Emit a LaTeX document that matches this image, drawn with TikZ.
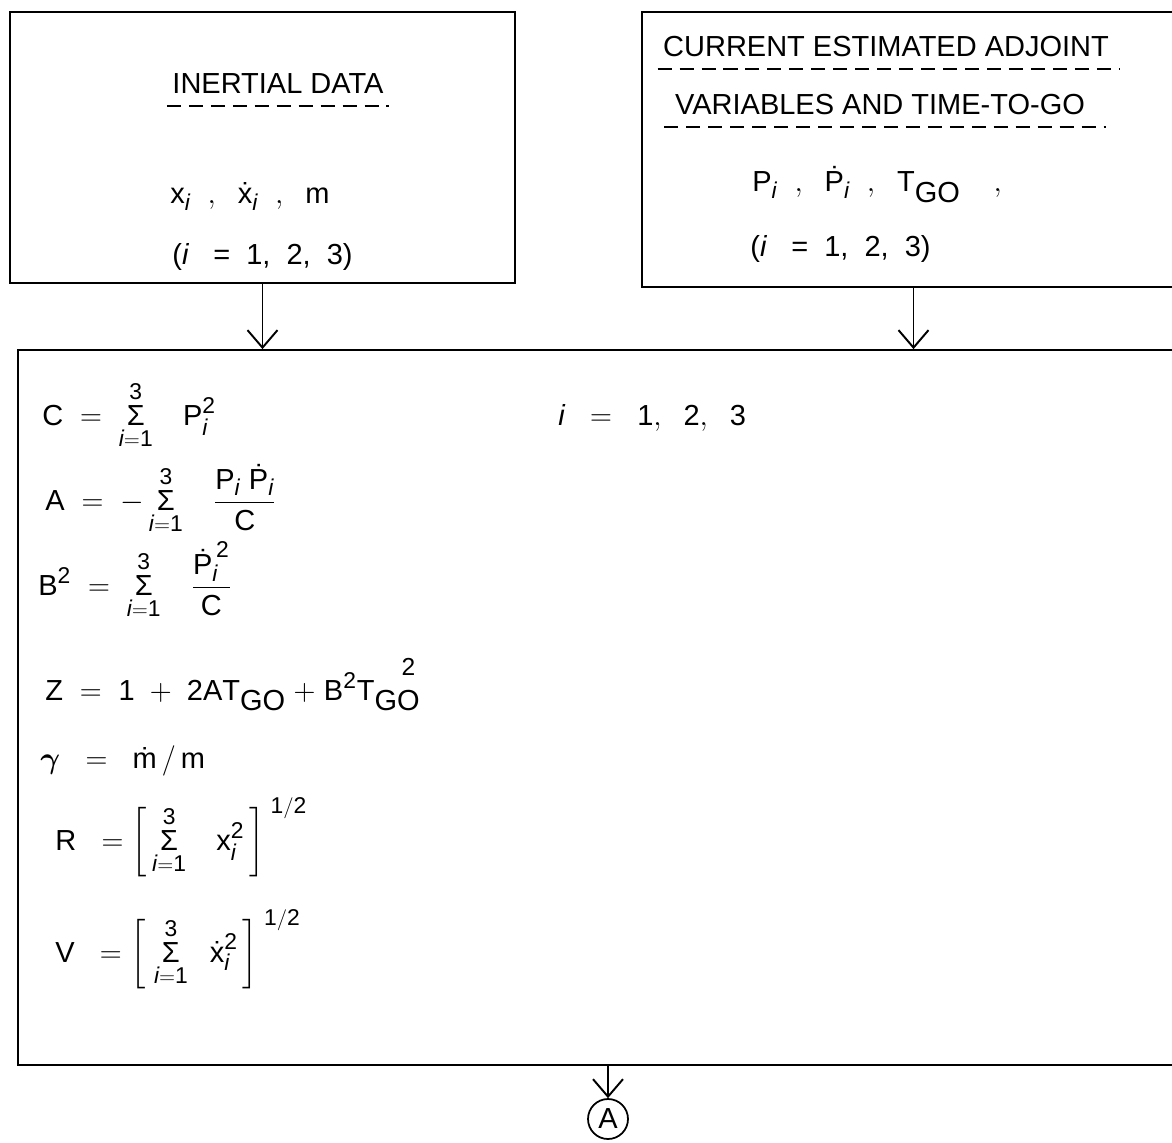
\documentclass[tikz,border=0pt]{standalone}
\usepackage{amsmath}
\usepackage{amssymb}
\usepackage{fontspec}
\setmainfont{Liberation Sans}
\usepackage{tikz}
\usetikzlibrary{arrows.meta,positioning}

\DeclareMathSizes{16.5}{16.5}{13}{10}
\newcommand{\ix}{\mathit{i}}
\newcommand{\sumi}{\mathop{\text{Σ}}\limits_{\ix\mathrm{=1}}^{\mathrm{3}}}
\newcommand{\GO}{\hbox{\raisebox{-0.7ex}{GO}}}
\newcommand{\GOsq}{\hbox{\raisebox{-0.7ex}{GO}\llap{\raisebox{1.6ex}{\fontsize{14}{16}\selectfont 2}\hspace{0.15em}}}}
\newcommand{\ione}{(\textit{i}\ \ \ =\ \ 1,\ \ 2,\ \ 3)}

\tikzset{
  blk/.style={draw, line width=1.1pt, inner sep=0pt},
  flow/.style={line width=1.1pt, -{Straight Barb[length=3.5mm,width=6mm,line width=1.1pt]}},
  txt/.style={anchor=base west, inner sep=0pt, font=\fontsize{16.5}{20}\selectfont},
  ttl/.style={anchor=base, inner sep=0pt, font=\fontsize{16.5}{20}\selectfont},
  uline/.style={line width=1.1pt, dash pattern=on 8pt off 4.5pt},
}

\begin{document}
\begin{tikzpicture}[x=0.02cm,y=-0.02cm]
  \clip (0,0) rectangle (1172,1142);
  % boxes
  \node[blk, minimum width=10.1cm, minimum height=5.42cm] (inert) at (262.5,147.5) {};
  \node[blk, minimum width=10.86cm, minimum height=5.5cm] (adj) at (913.5,149.5) {};
  \node[blk, minimum width=23.34cm, minimum height=14.3cm] (calc) at (601.5,707.5) {};
  \node[draw, circle, line width=1pt, minimum size=0.8cm, inner sep=0pt,
        font=\fontsize{16.5}{20}\selectfont] (conA) at (608,1119) {A};

  % inertial data
  \node[ttl] (t1) at (278,94) {INERTIAL DATA};
  \draw[uline] ([xshift=-3pt,yshift=-7pt]t1.base west) -- ([xshift=3pt,yshift=-7pt]t1.base east);
  \node[txt] (xin) at (170,204) {$\mathrm{x_{\ix}\;\;,\;\;\text{ẋ}_{\ix}\;\;,\;\;m}$};
  \node[txt] (iin) at (172,264) {\ione};

  % adjoint variables
  \node[ttl] (t2) at (886,57) {CURRENT ESTIMATED ADJOINT};
  \node[ttl] (t3) at (880,115) {VARIABLES AND TIME-TO-GO};
  \draw[uline] ([xshift=-3pt,yshift=-7pt]t2.base west) -- ([xshift=6pt,yshift=-7pt]t2.base east);
  \draw[uline] ([xshift=-6pt,yshift=-7pt]t3.base west) -- ([xshift=12pt,yshift=-7pt]t3.base east);
  \node[txt] (pin) at (752,192) {$\mathrm{P_{\ix}\;\;,\;\;\text{Ṗ}_{\ix}\;\;,\;\;T}\GO\;\;\;\;,$};
  \node[txt] (iad) at (750,256) {\ione};

  % computations
  \node[txt] (eqC) at (42,425) {$\mathrm{C}\;=\;\sumi\;\;\;\mathrm{P_{\ix}^{2}}$};
  \node[txt] (eqI) at (558,425) {$\ix\;\;=\;\;\mathrm{1,\;\;2,\;\;3}$};
  \node[txt] (eqA) at (45,510) {$\mathrm{A}\;=\;-\sumi\;\;\;\dfrac{\mathrm{P}_{\ix}\;\text{Ṗ}_{\ix}}{\mathrm{C}}$};
  \node[txt] (eqB) at (38,595) {$\mathrm{B^{2}}\;=\;\sumi\;\;\;\dfrac{\text{Ṗ}_{\ix}^{\mathrm{\,2}}}{\mathrm{C}}$};
  \node[txt] (eqZ) at (45,700) {$\mathrm{Z\;=\;1\;+\;2AT}\GO\;\mathrm{+\;B^{2}T}\GOsq$};
  \node[txt] (eqG) at (40,768) {$\boldsymbol{\gamma}\;\;=\;\;\text{ṁ}\,/\,\mathrm{m}$};
  \node[txt] (eqR) at (55,850) {$\mathrm{R}\;\;=\left[\,\sumi\;\;\;\mathrm{x}_{\ix}^{\mathrm{2}}\,\right]^{\mathrm{\;1/2}}$};
  \node[txt] (eqV) at (55,962) {$\mathrm{V}\;\;=\left[\;\sumi\;\;\text{ẋ}_{\ix}^{\mathrm{2}}\,\right]^{\mathrm{\;1/2}}$};

  % flow
  \draw[flow] (inert.south) -- (inert.south |- calc.north);
  \draw[flow] (adj.south) -- (adj.south |- calc.north);
  \draw[flow] (conA.north |- calc.south) -- (conA.north);
\end{tikzpicture}
\end{document}
